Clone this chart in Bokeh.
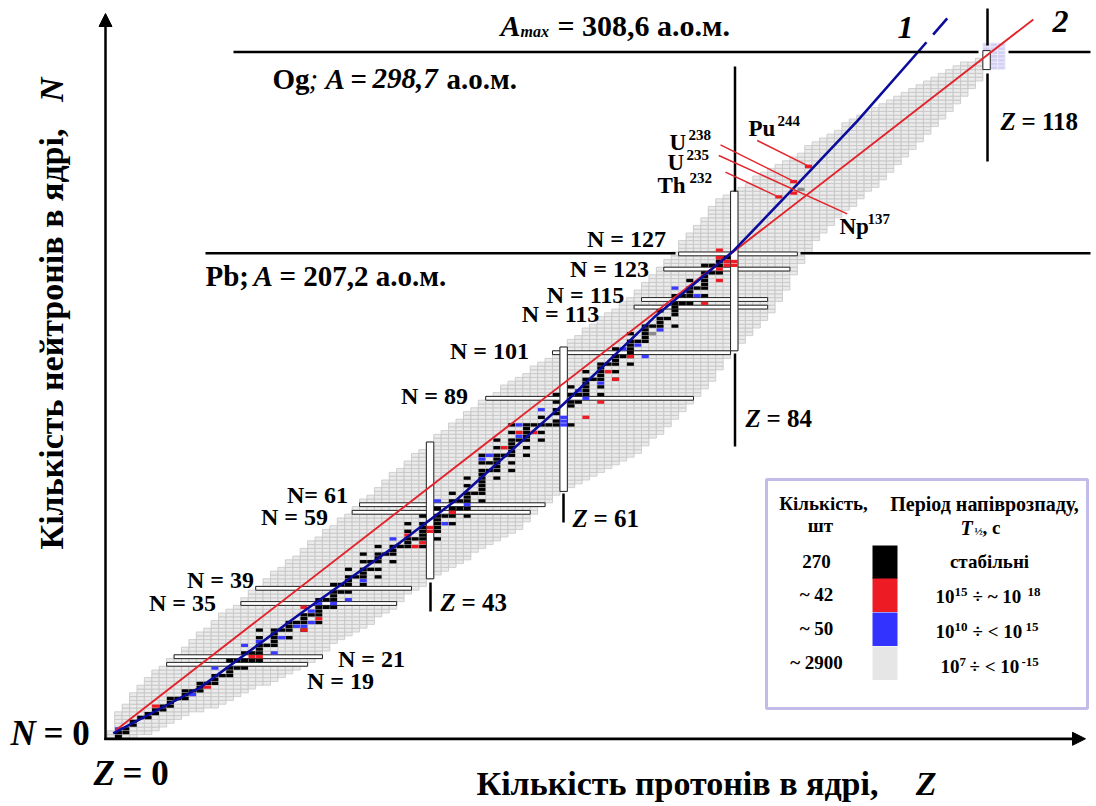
import math
from bokeh.plotting import figure
from bokeh.models import ColumnDataSource, Label, Range1d, Arrow, NormalHead
from bokeh.embed import file_html
from bokeh.resources import INLINE

# ---------------- data ----------------
# grey band: for each Z = 0..117 the lowest and highest N drawn
band_nmin = [0, 0, 0, 0, 1, 1, 2, 3, 4, 5, 6, 7, 7, 8, 8, 9, 10, 11, 12, 13,
             14, 14, 15, 16, 17, 18, 19, 20, 21, 23, 25, 26, 27, 28, 29, 30, 32, 33, 34, 36,
             38, 39, 40, 42, 43, 44, 45, 46, 47, 49, 50, 51, 52, 53, 54, 55, 57, 59, 61, 62,
             64, 65, 66, 67, 68, 69, 70, 71, 72, 73, 74, 75, 77, 79, 80, 82, 84, 86, 88, 90,
             92, 94, 97, 100, 102, 104, 106, 108, 110, 112, 115, 118, 122, 125, 128, 131, 133, 135, 137, 139,
             140, 142, 144, 145, 147, 149, 151, 153, 155, 157, 159, 161, 163, 165, 167, 169, 171, 173]
band_nmax = [1, 6, 8, 11, 13, 15, 17, 18, 20, 21, 23, 25, 27, 28, 30, 32, 33, 34, 36, 38,
             39, 41, 43, 44, 46, 47, 49, 51, 52, 54, 55, 57, 58, 60, 62, 63, 65, 67, 69, 70,
             72, 74, 75, 77, 79, 80, 82, 83, 85, 86, 88, 89, 90, 92, 93, 94, 95, 97, 98, 99,
             101, 102, 104, 105, 107, 108, 110, 111, 112, 114, 115, 117, 119, 121, 123, 125, 127, 130, 132, 134,
             136, 139, 141, 142, 143, 144, 145, 147, 148, 149, 150, 151, 152, 153, 155, 156, 157, 158, 159, 161,
             162, 163, 164, 165, 166, 167, 168, 169, 170, 171, 172, 173, 174, 175, 176, 177, 177, 178]

# stable nuclides: Z -> list of N
stable_n = {
    1: [0, 1], 2: [1, 2], 3: [3, 4], 4: [5], 5: [5, 6], 6: [6, 7], 7: [7, 8], 8: [8, 9, 10], 9: [10],
    10: [10, 11, 12], 11: [12], 12: [12, 13, 14], 13: [14], 14: [14, 15, 16], 15: [16], 16: [16, 17, 18, 20],
    17: [18, 20], 18: [18, 20, 22], 19: [20, 22], 20: [20, 22, 23, 24, 26, 28], 21: [24],
    22: [24, 25, 26, 27, 28], 23: [28], 24: [26, 28, 29, 30], 25: [30], 26: [28, 30, 31, 32], 27: [32],
    28: [30, 32, 33, 34, 36], 29: [34, 36], 30: [34, 36, 37, 38, 40], 31: [38, 40], 32: [38, 40, 41, 42, 44],
    33: [42], 34: [40, 42, 43, 44, 46, 48], 35: [44, 46], 36: [42, 44, 46, 47, 48, 50], 37: [48],
    38: [46, 48, 49, 50], 39: [50], 40: [50, 51, 52, 54, 56], 41: [52], 42: [50, 52, 53, 54, 55, 56, 58],
    44: [52, 54, 55, 56, 57, 58, 60], 45: [58], 46: [56, 58, 59, 60, 62, 64], 47: [60, 62],
    48: [58, 60, 62, 63, 64, 66, 68], 49: [64], 50: [62, 64, 65, 66, 67, 68, 69, 70, 72, 74], 51: [70, 72],
    52: [68, 70, 71, 72, 73, 74, 76, 78], 53: [74], 54: [70, 72, 74, 75, 76, 77, 78, 80, 82], 55: [78],
    56: [74, 76, 78, 79, 80, 81, 82], 57: [82], 58: [78, 80, 82, 84], 59: [82], 60: [82, 83, 85, 86, 88, 90],
    62: [82, 87, 88, 90, 92], 63: [88, 90], 64: [90, 91, 92, 93, 94, 96], 65: [94],
    66: [90, 92, 94, 95, 96, 97, 98], 67: [98], 68: [94, 96, 98, 99, 100, 102], 69: [100],
    70: [98, 100, 101, 102, 103, 104, 106], 71: [104], 72: [104, 105, 106, 107, 108], 73: [108],
    74: [108, 109, 110, 112], 75: [110], 76: [108, 111, 112, 113, 114, 116], 77: [114, 116],
    78: [114, 116, 117, 118, 120], 79: [118], 80: [116, 118, 119, 120, 121, 122, 124], 81: [122, 124],
    82: [122, 124, 125, 126], 83: [126],
}

# T1/2 = 1e15 .. 1e18 s (red)
red_z = [6, 13, 19, 20, 26, 26, 28, 40, 41, 42, 43, 43, 46, 53, 55, 57, 64, 66, 67, 68, 70,
         80, 82, 82, 82, 82, 83, 83, 84, 84, 90, 92, 92, 94]
red_n = [8, 13, 21, 21, 34, 28, 31, 53, 50, 51, 54, 55, 59, 76, 80, 80, 84, 88, 96, 94, 100,
         114, 120, 123, 128, 126, 124, 125, 124, 125, 142, 143, 146, 150]
# T1/2 = 1e10 .. 1e15 s (blue)
blue_z = [1, 11, 14, 18, 20, 22, 23, 25, 26, 27, 27, 28, 30, 32, 34, 38, 44, 45, 48, 50, 51,
          55, 55, 58, 61, 61, 61, 63, 64, 66, 69, 71, 72, 74, 76, 79]
blue_n = [2, 11, 18, 24, 25, 22, 26, 29, 29, 30, 33, 35, 35, 36, 41, 52, 62, 56, 61, 73, 74,
          79, 82, 86, 82, 83, 84, 91, 89, 93, 102, 103, 100, 107, 118, 116]
# highlighted single nuclides (dark grey)
grey_z = [73, 93]
grey_n = [106, 144]
# Og region cells (lavender)
og_z = [118, 118, 119, 119, 119, 119, 119, 119, 119, 120, 120, 120, 120, 120, 120, 120]
og_n = [181, 182, 176, 177, 178, 179, 180, 181, 182, 176, 177, 178, 179, 180, 181, 182]

# framed isotones (N = const) and isotopes (Z = const)
isotone_n = [19, 21, 35, 39, 59, 61, 89, 101, 113, 115, 123, 127]
isotone_z_first = [8, 9, 18, 20, 33, 34, 51, 60, 71, 72, 75, 77]
isotone_z_last = [26, 28, 38, 40, 56, 58, 78, 83, 88, 88, 91, 92]
isotope_z = [43, 61, 84, 118]
isotope_n_first = [42, 65, 102, 176]
isotope_n_last = [77, 102, 143, 180]

# line 1 (stability curve) and line 2 (straight)
line1_z = [0.3, 12.1, 25.5, 39.0, 46.7, 52.5, 61.0, 73.2, 83.8, 93.8, 100.6, 108.7, 109.9, float("nan"), 110.8, 112.7]
line1_n = [0.8, 13.0, 32.3, 51.1, 62.5, 72.7, 87.5, 110.3, 127.6, 148.0, 162.0, 180.0, 182.7, float("nan"), 184.7, 189.0]
line2_z = [0.6, 124.3]
line2_n = [1.6, 188.7]

legend_counts = ["270", "~ 42", "~ 50", "~ 2900"]
legend_colors = ["#000000", "#ed1c24", "#3333ff", "#e6e6e6"]

# ---------------- geometry of the page ----------------
W, H = 1094, 804
X0, KX = 110.5, 7.42     # screen x of Z = 0 and px per proton
Y0, KY = 736.0, 3.8      # screen y of N = 0 and px per neutron


def dz(px):
    return (px - X0) / KX


def dn(py):
    return (Y0 - py) / KY


p = figure(width=W, height=H, output_backend="svg", toolbar_location=None,
           x_axis_type=None, y_axis_type=None,
           x_range=Range1d(dz(0), dz(W)), y_range=Range1d(dn(H), dn(0)),
           min_border=0, min_border_left=0, min_border_right=0,
           min_border_top=0, min_border_bottom=0)
p.outline_line_color = None
p.background_fill_color = "white"
p.grid.visible = False

FONT = "Liberation Serif"

# grey band cells
gz, gn = [], []
for z, (a, b) in enumerate(zip(band_nmin, band_nmax)):
    for n in range(a, b + 1):
        gz.append(z)
        gn.append(n)
p.rect(x=gz, y=gn, width=1, height=1, fill_color="#ebebeb", line_color="#c4c4c4", line_width=0.8)
p.rect(x=og_z, y=og_n, width=1, height=1, fill_color="#d4d0f2", line_color="#eeeefc", line_width=0.8)

# framed rows / columns (white inside)
p.quad(left=[z - 0.5 for z in isotone_z_first], right=[z + 0.5 for z in isotone_z_last],
       bottom=[n - 0.5 for n in isotone_n], top=[n + 0.5 for n in isotone_n],
       fill_color="white", line_color="#222222", line_width=1)
p.quad(left=[z - 0.5 for z in isotope_z], right=[z + 0.5 for z in isotope_z],
       bottom=[n - 0.5 for n in isotope_n_first], top=[n + 0.5 for n in isotope_n_last],
       fill_color="white", line_color="#222222", line_width=1)

# coloured cells
sz, sn = [], []
for z, ns in stable_n.items():
    for n in ns:
        sz.append(z)
        sn.append(n)
p.rect(x=sz, y=sn, width=0.94, height=0.88, fill_color="#000000", line_color=None)
p.rect(x=red_z, y=red_n, width=0.94, height=0.88, fill_color="#ed1c24", line_color=None)
p.rect(x=blue_z, y=blue_n, width=0.94, height=0.88, fill_color="#3a3aff", line_color=None)
p.rect(x=grey_z, y=grey_n, width=0.94, height=0.88, fill_color="#8c8c8c", line_color=None)

# lines 1 and 2
p.line(line2_z, line2_n, line_color="#e3232b", line_width=1.9)
p.line(line1_z, line1_n, line_color="#0c0c9c", line_width=2.6)


def seg(x0, y0, x1, y1, color="black", width=2.5):
    p.line([dz(x0), dz(x1)], [dn(y0), dn(y1)], line_color=color, line_width=width)


# guide lines
seg(233, 51.5, 978, 51.5)
seg(1008, 51.5, 1090, 51.5)
seg(205, 252.7, 675, 252.7)
seg(800, 252.7, 1090, 252.7)
seg(987, 8, 987, 45)
seg(987, 73, 987, 161)
seg(734.5, 66, 734.5, 191)
seg(734.5, 353, 734.5, 446)
seg(563, 493, 563, 522)
seg(430, 582, 430, 611)

# leader lines to the heavy nuclides
seg(756.7, 140, 810, 166.7, "#e3232b", 1.4)
seg(720, 144.3, 796.7, 182.7, "#e3232b", 1.4)
seg(718.3, 155, 846.7, 213.3, "#e3232b", 1.4)
seg(725, 171.7, 780, 197.3, "#e3232b", 1.4)

# axes with arrows
p.add_layout(Arrow(end=NormalHead(size=13, fill_color="black", line_color="black"),
                   x_start=dz(105), y_start=dn(739.5), x_end=dz(105), y_end=dn(13),
                   line_width=2.5, line_color="black"))
p.add_layout(Arrow(end=NormalHead(size=13, fill_color="black", line_color="black"),
                   x_start=dz(103.8), y_start=dn(738.3), x_end=dz(1085), y_end=dn(738.3),
                   line_width=2.8, line_color="black"))


def lab(px, py, text, size=24, style="bold", align="left", baseline="middle", angle=0.0, color="black"):
    p.add_layout(Label(x=dz(px), y=dn(py), text=text, text_font=FONT, text_font_size=f"{size}px",
                       text_font_style=style, text_align=align, text_baseline=baseline,
                       angle=angle, text_color=color))


# top texts
lab(500, 25, "A", 30, "bold italic")
lab(520, 31, "max", 16, "bold italic")
lab(557, 25, "= 308,6 а.о.м.", 30)
lab(272, 78, "Og", 29)
lab(308, 78, ";", 29, "italic")
lab(325, 78, "A", 29, "bold italic")
lab(350, 78, "=", 29)
lab(372, 78, "298,7", 29, "bold italic")
lab(446, 78, "а.о.м.", 29)
lab(205, 275, "Pb;", 29)
lab(253, 275, "A", 29, "bold italic")
lab(279, 275, "= 207,2 а.о.м.", 29)
lab(905, 27, "1", 32, "bold italic", "center")
lab(1060, 21, "2", 32, "bold italic", "center")

# Z labels
for x0, txt, y0 in [(1000, "= 118", 121), (745, "= 84", 418), (572, "= 61", 518), (440, "= 43", 602)]:
    lab(x0, y0, "Z", 25, "bold italic")
    lab(x0 + 21, y0, txt, 25)

# N labels
for cx, cy, txt in [(626, 238, "N = 127"), (609, 268, "N = 123"), (585, 294, "N = 115"),
                    (560, 313, "N = 113"), (489, 350, "N = 101"), (434, 395, "N = 89"),
                    (317, 494, "N= 61"), (294, 516, "N = 59"), (220, 579, "N = 39"),
                    (182, 602, "N = 35"), (371, 658, "N = 21"), (340, 680, "N = 19")]:
    lab(cx, cy, txt, 24, "bold", "center")

# heavy nuclide labels
for x0, y0, base, sup, w in [(748, 128, "Pu", "244", 29), (669, 142, "U", "238", 19),
                             (667, 162, "U", "235", 19), (657, 185, "Th", "232", 32),
                             (839, 226, "Np", "137", 28)]:
    lab(x0, y0, base, 23)
    lab(x0 + w, y0 - 8, sup, 15)

# origin labels
lab(10, 733, "N", 35, "bold italic")
lab(43, 733, "= 0", 35)
lab(93, 773, "Z", 35, "bold italic")
lab(122, 773, "= 0", 35)

# axis titles
lab(476, 783, "Кількість протонів в ядрі,", 34)
lab(936, 783, "Z", 34, "bold italic", "right")
lab(51, 549, "Кількість нейтронів в ядрі,", 34, "bold", "left", "middle", math.pi / 2)
lab(51, 77, "N", 34, "bold italic", "right", "middle", math.pi / 2)

# legend box
p.quad(left=[dz(766)], right=[dz(1087)], bottom=[dn(708)], top=[dn(479)],
       fill_color="white", line_color="#c3bce8", line_width=3)
sw_top = [545, 578, 612, 646]
for i, (cnt, col) in enumerate(zip(legend_counts, legend_colors)):
    t = sw_top[i]
    p.quad(left=[dz(872)], right=[dz(897)], bottom=[dn(t + 33.5)], top=[dn(t)],
           fill_color=col, line_color=None)
    lab(816, t + 16, cnt, 19, "bold", "center")
lab(823, 503, "Кількість,", 19, "bold", "center")
lab(820, 525, "шт", 19, "bold", "center")
lab(984, 503, "Період напіврозпаду,", 20, "bold", "center")
lab(960, 527, "T", 20, "bold italic")
lab(974, 530, "½", 11)
lab(982, 527, ", с", 19)
lab(989, 561, "стабільні", 19, "bold", "center")
lab(935, 596, "10", 19)
lab(954, 591, "15", 13)
lab(972, 596, "÷ ~ 10", 19)
lab(1027, 591, "18", 13)
lab(935, 631, "10", 19)
lab(954, 626, "10", 13)
lab(972, 631, "÷ < 10", 19)
lab(1025, 626, "15", 13)
lab(940, 666, "10", 19)
lab(959, 661, "7", 13)
lab(969, 666, "÷ < 10", 19)
lab(1021, 661, "-15", 13)

open("out.html", "w").write(file_html(p, INLINE))
